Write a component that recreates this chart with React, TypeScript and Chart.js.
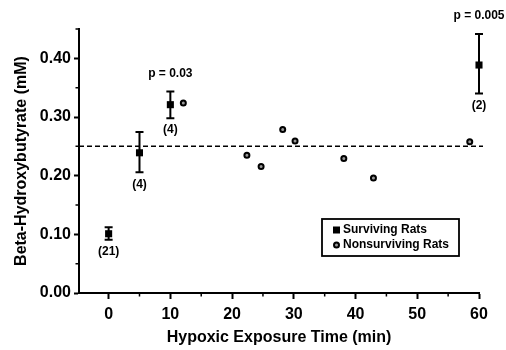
import React, { useEffect, useRef } from "react";
import { Chart, registerables } from "chart.js";

Chart.register(...registerables);

const FONT = '"Liberation Sans", Arial, Helvetica, sans-serif';

// Surviving rats: mean ± error, with n labels
const survX = [0, 5, 10, 60];
const survY = [0.101, 0.239, 0.321, 0.3886];
const survUpper = [0.112, 0.2746, 0.3436, 0.4415];
const survLower = [0.0909, 0.2058, 0.298, 0.34];
const survN = ["(21)", "(4)", "(4)", "(2)"];
const survP = ["", "", "p = 0.03", "p = 0.005"];

// Nonsurviving rats: individual values
const nonX = [12.1, 22.4, 24.7, 28.2, 30.2, 38.1, 42.9, 58.5];
const nonY = [0.324, 0.2348, 0.2155, 0.2787, 0.2593, 0.2292, 0.196, 0.2576];

const refLevel = 0.25;
const xMajorTicks = [0, 10, 20, 30, 40, 50, 60];
const xMinorTicks = [5, 15, 25, 35, 45, 55];
const yMajorTicks = [0, 0.1, 0.2, 0.3, 0.4];
const yMinorTicks = [0.05, 0.15, 0.25, 0.35, 0.45];
const legendLabels = ["Surviving Rats", "Nonsurviving Rats"];

const overlayPlugin = {
  id: "overlay",
  beforeDatasetsDraw(chart: any) {
    const ctx = chart.ctx;
    const xs = chart.scales.x;
    const ys = chart.scales.y;
    const area = chart.chartArea;
    ctx.save();
    // dashed reference line
    ctx.strokeStyle = "#000";
    ctx.lineWidth = 1.5;
    ctx.setLineDash([5, 3]);
    const yr = ys.getPixelForValue(refLevel);
    ctx.beginPath();
    ctx.moveTo(area.left, yr);
    ctx.lineTo(area.right + 4, yr);
    ctx.stroke();
    ctx.setLineDash([]);
    // error bars
    ctx.lineWidth = 2;
    survX.forEach((xv, i) => {
      const px = xs.getPixelForValue(xv);
      const pu = ys.getPixelForValue(survUpper[i]);
      const pl = ys.getPixelForValue(survLower[i]);
      ctx.beginPath();
      ctx.moveTo(px, pu);
      ctx.lineTo(px, pl);
      ctx.moveTo(px - 4, pu);
      ctx.lineTo(px + 4, pu);
      ctx.moveTo(px - 4, pl);
      ctx.lineTo(px + 4, pl);
      ctx.stroke();
    });
    ctx.restore();
  },
  afterDraw(chart: any) {
    const ctx = chart.ctx;
    const xs = chart.scales.x;
    const ys = chart.scales.y;
    const area = chart.chartArea;
    ctx.save();
    // minor ticks
    ctx.strokeStyle = "#000";
    ctx.lineWidth = 1.5;
    ctx.beginPath();
    xMinorTicks.forEach((v) => {
      const px = xs.getPixelForValue(v);
      ctx.moveTo(px, area.bottom);
      ctx.lineTo(px, area.bottom + 3.5);
    });
    yMinorTicks.forEach((v) => {
      const py = ys.getPixelForValue(v);
      ctx.moveTo(area.left, py);
      ctx.lineTo(area.left - 3.5, py);
    });
    ctx.stroke();
    // n labels and p labels
    ctx.fillStyle = "#000";
    ctx.font = `bold 12px ${FONT}`;
    ctx.textAlign = "center";
    ctx.textBaseline = "middle";
    survX.forEach((xv, i) => {
      const px = xs.getPixelForValue(xv);
      ctx.fillText(survN[i], px, ys.getPixelForValue(survLower[i]) + 12);
      if (survP[i]) ctx.fillText(survP[i], px, ys.getPixelForValue(survUpper[i]) - 18);
    });
    // legend box
    const bw = 137, bh = 37;
    const bx = area.right - 20 - bw;
    const by = area.bottom - 37 - bh;
    ctx.lineWidth = 1.8;
    ctx.strokeRect(bx, by, bw, bh);
    ctx.textAlign = "left";
    ctx.fillRect(bx + 11, by + 11 - 3.5, 7, 7);
    ctx.beginPath();
    ctx.arc(bx + 14.5, by + 26, 2.5, 0, Math.PI * 2);
    ctx.fillStyle = "#999";
    ctx.fill();
    ctx.lineWidth = 2;
    ctx.stroke();
    ctx.fillStyle = "#000";
    ctx.fillText(legendLabels[0], bx + 21, by + 11);
    ctx.fillText(legendLabels[1], bx + 21, by + 26);
    ctx.restore();
  },
};

export default function App() {
  const ref = useRef<HTMLCanvasElement>(null);
  useEffect(() => {
    const chart = new Chart(ref.current!, {
      type: "scatter",
      data: {
        datasets: [
          {
            label: legendLabels[0],
            data: survX.map((x, i) => ({ x, y: survY[i] })),
            pointStyle: "rect",
            pointRadius: 5,
            backgroundColor: "#000",
            borderColor: "#000",
            borderWidth: 0,
            clip: false,
          },
          {
            label: legendLabels[1],
            data: nonX.map((x, i) => ({ x, y: nonY[i] })),
            pointStyle: "circle",
            pointRadius: 2.5,
            backgroundColor: "#999",
            borderColor: "#000",
            borderWidth: 2,
            clip: false,
          },
        ],
      },
      options: {
        responsive: false,
        animation: false,
        layout: { padding: { top: 29, right: 27, left: 0, bottom: 0 } },
        plugins: { legend: { display: false }, tooltip: { enabled: false } },
        scales: {
          x: {
            type: "linear",
            min: -4.8,
            max: 60,
            afterBuildTicks: (s: any) => {
              s.ticks = xMajorTicks.map((v) => ({ value: v }));
            },
            afterFit: (s: any) => {
              s.height = 57;
            },
            border: { display: true, color: "#000", width: 2 },
            grid: { display: true, drawOnChartArea: false, drawTicks: true, tickLength: 6, tickWidth: 2, tickColor: "#000" },
            ticks: { color: "#000", padding: 6, font: { family: FONT, size: 16, weight: "bold" }, maxRotation: 0 },
            title: {
              display: true,
              text: "Hypoxic Exposure Time (min)",
              color: "#000",
              font: { family: FONT, size: 16, weight: "bold" },
              padding: { top: 0, bottom: 3 },
            },
          },
          y: {
            type: "linear",
            min: 0,
            max: 0.45,
            afterBuildTicks: (s: any) => {
              s.ticks = yMajorTicks.map((v) => ({ value: v }));
            },
            afterFit: (s: any) => {
              s.width = 79;
            },
            border: { display: true, color: "#000", width: 2 },
            grid: { display: true, drawOnChartArea: false, drawTicks: true, tickLength: 5, tickWidth: 2, tickColor: "#000" },
            ticks: {
              color: "#000",
              padding: 3,
              font: { family: FONT, size: 16, weight: "bold" },
              callback: (v: any) => Number(v).toFixed(2),
            },
            title: {
              display: true,
              text: "Beta-Hydroxybutyrate (mM)",
              color: "#000",
              font: { family: FONT, size: 16, weight: "bold" },
              padding: { top: 12, bottom: 0 },
            },
          },
        },
      },
      plugins: [overlayPlugin],
    } as any);
    return () => chart.destroy();
  }, []);
  return (
    <div style={{ position: "fixed", left: 0, top: 0, width: 506, height: 350, background: "#fff" }}>
      <canvas ref={ref} width={506} height={350} />
    </div>
  );
}
